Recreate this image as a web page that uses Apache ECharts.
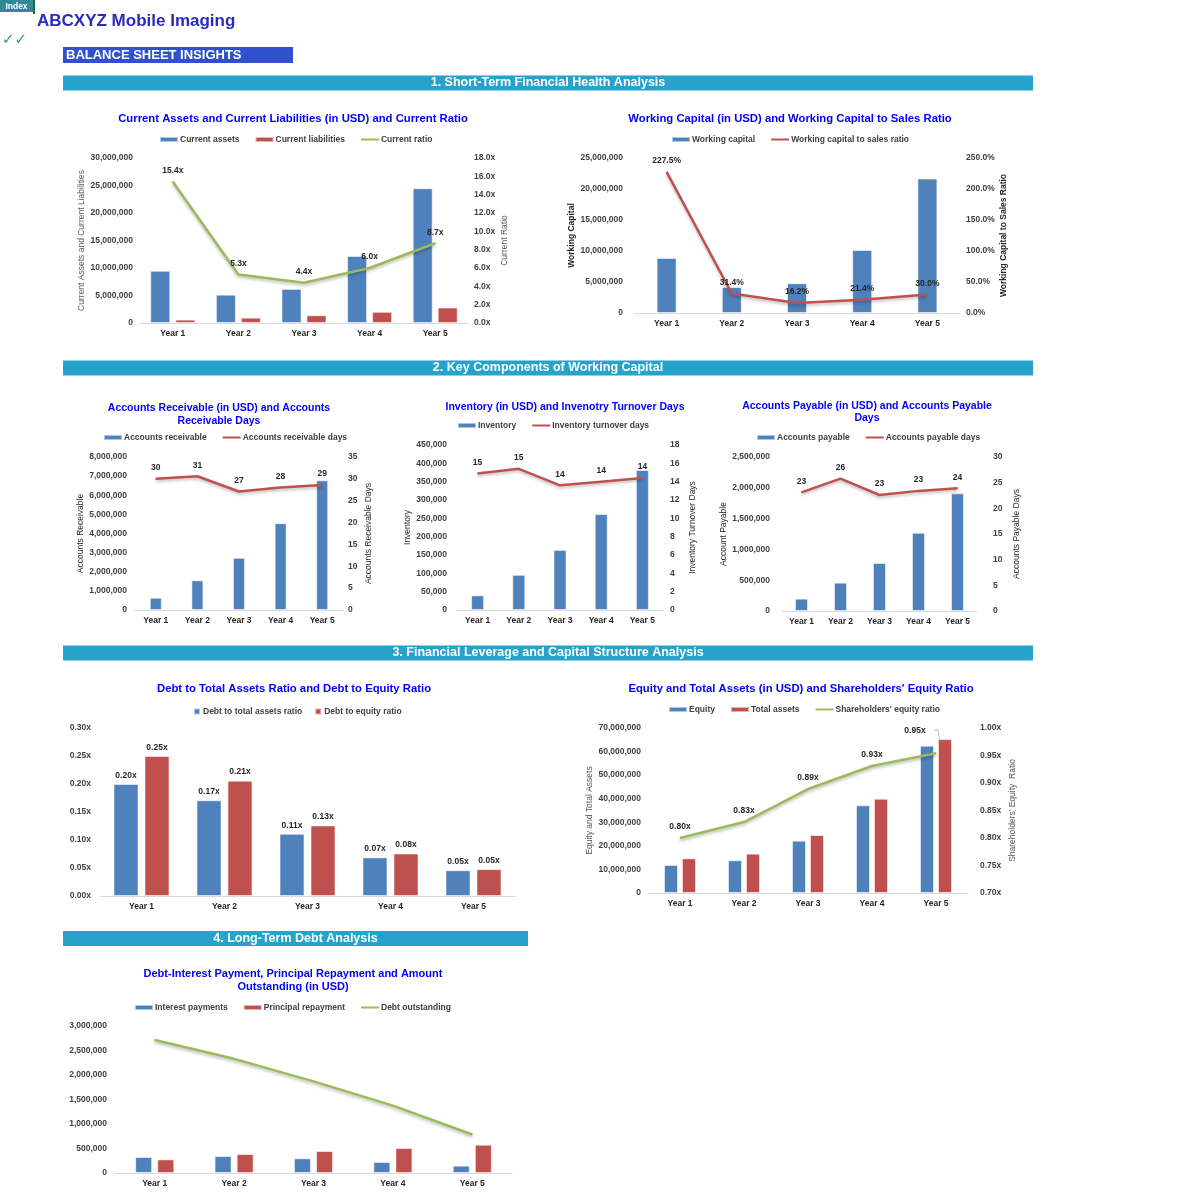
<!DOCTYPE html>
<html><head><meta charset="utf-8">
<script src="https://cdn.jsdelivr.net/npm/echarts@6/dist/echarts.min.js"></script>
<style>html,body{margin:0;padding:0;background:#fff}#c{width:1200px;height:1200px}</style>
</head><body><div id="c"></div>
<script>
// ---------- DATA ----------
const years = ['Year 1', 'Year 2', 'Year 3', 'Year 4', 'Year 5'];
const currentAssets = [9500000, 5150000, 6200000, 12200000, 24500000];
const currentLiabilities = [617000, 972000, 1409000, 2033000, 2816000];
const currentRatio = [15.4, 5.3, 4.4, 6.0, 8.7];
const workingCapital = [8880000, 4180000, 4790000, 10170000, 21680000];
const wcToSalesRatio = [227.5, 31.4, 16.2, 21.4, 30.0];
const accountsReceivable = [640000, 1550000, 2730000, 4540000, 6780000];
const arDays = [30.0, 30.6, 27.1, 28.0, 28.6];
const inventory = [40000, 96000, 164000, 262000, 382000];
const inventoryDays = [14.9, 15.4, 13.6, 14.0, 14.4];
const accountsPayable = [200000, 460000, 780000, 1270000, 1910000];
const apDays = [23.1, 25.8, 22.6, 23.4, 23.9];
const debtToAssets = [0.200, 0.171, 0.111, 0.069, 0.046];
const debtToEquity = [0.250, 0.206, 0.126, 0.076, 0.048];
const equity = [11900000, 13900000, 22200000, 37200000, 62500000];
const totalAssets = [14700000, 16700000, 24600000, 40000000, 65300000];
const equityRatio = [0.800, 0.829, 0.889, 0.931, 0.954];
const interestPayments = [326000, 346000, 300000, 224000, 150000];
const principalRepayment = [278000, 387000, 448000, 509000, 577000];
const debtOutstanding = [2716000, 2330000, 1870000, 1375000, 785000];

// ---------- STYLE ----------
const FONT = '"Liberation Sans", Arial, sans-serif';
const BLUE = '#4F81BD', RED = '#C0504D', GREEN = '#9BBB59';
const TITLE_BLUE = '#0000FF';
const SECTION = '#27A2CB';

const fmtNum = v => Math.round(v).toLocaleString('en-US');
const fmtX1 = v => v.toFixed(1) + 'x';
const fmtX2 = v => v.toFixed(2) + 'x';
const fmtPct = v => v.toFixed(1) + '%';
const fmtInt = v => String(Math.round(v));

const grid = [], xAxis = [], yAxis = [], series = [], legend = [], graphic = [];

function axisCommon(gi, pos, a) {
  return {
    type: 'value', gridIndex: gi, position: pos,
    min: a.min, max: a.max, interval: a.interval,
    splitLine: { show: false }, axisLine: { show: false }, axisTick: { show: false },
    axisLabel: { formatter: a.fmt, fontFamily: FONT, fontSize: 8.5, fontWeight: 'bold', color: '#404040', margin: a.margin },
    name: a.name || '', nameLocation: 'middle', nameGap: a.nameGap || 0, nameRotate: 90,
    nameTextStyle: { fontFamily: FONT, fontSize: 8.5, fontWeight: a.nameBold ? 'bold' : 'normal', color: a.nameColor || '#404040' }
  };
}

function addChart(c) {
  const gi = grid.length;
  const [gx, gy, gw, gh] = c.box;
  grid.push({ left: gx, top: gy, width: gw, height: gh, outerBoundsMode: 'none', containLabel: false });
  xAxis.push({
    type: 'category', gridIndex: gi, data: years,
    axisLine: { lineStyle: { color: '#D9D9D9', width: 1 } }, axisTick: { show: false },
    axisLabel: { fontFamily: FONT, fontSize: 8.5, fontWeight: 'bold', color: '#262626', margin: 6 }
  });
  const xi = xAxis.length - 1;
  const yl = yAxis.length;
  yAxis.push(axisCommon(gi, 'left', c.left));
  let yr = yl;
  if (c.right) { yr = yAxis.length; yAxis.push(axisCommon(gi, 'right', c.right)); }

  const legendData = [];
  c.bars.forEach(b => {
    series.push({
      type: 'bar', name: b.name, data: b.data, xAxisIndex: xi, yAxisIndex: yl,
      barWidth: c.barWidth, barGap: c.barGap || '25%',
      itemStyle: { color: b.color, borderColor: 'rgba(255,255,255,0.55)', borderWidth: 1 },
      label: b.labelFmt ? { show: true, position: 'top', distance: 4, formatter: p => b.labelFmt(p.value), fontFamily: FONT, fontSize: 8.5, fontWeight: 'bold', color: '#262626' } : { show: false },
      z: 2
    });
    legendData.push({ name: b.name, icon: 'rect' });
  });
  (c.lines || []).forEach(l => {
    const s = {
      type: 'line', name: l.name, data: l.data, xAxisIndex: xi, yAxisIndex: l.axis === 'left' ? yl : yr,
      symbol: 'circle', symbolSize: 1, showSymbol: true,
      lineStyle: { color: l.color, width: 2.5, shadowColor: 'rgba(0,0,0,0.25)', shadowBlur: 3, shadowOffsetY: 2 },
      itemStyle: { color: l.color },
      label: l.labelFmt ? { show: true, position: 'top', distance: 6, formatter: p => l.labelFmt(Array.isArray(p.value) ? p.value[1] : p.value), fontFamily: FONT, fontSize: 8.5, fontWeight: 'bold', color: '#262626' } : { show: false },
      z: 5
    };
    if (l.special) {
      s.data = l.data.map((v, i) => l.special[i] ? { value: v, label: l.special[i] } : v);
    }
    series.push(s);
    legendData.push({ name: l.name, itemStyle: { opacity: 0 } });
  });

  legend.push({
    data: legendData, left: c.legend.left, top: c.legend.top, padding: 0,
    itemWidth: c.legend.square ? 6 : 18, itemHeight: c.legend.square ? 6 : 5,
    itemGap: c.legend.gap || 15,
    textStyle: { fontFamily: FONT, fontSize: 8.5, fontWeight: 'bold', color: '#404040', padding: [0, 0, 0, c.legend.square ? -2 : -3] },
    selectedMode: false
  });

  graphic.push({
    type: 'text', silent: true,
    style: {
      text: c.title, x: c.titlePos[0], y: c.titlePos[1], textAlign: 'center', textVerticalAlign: 'middle',
      font: 'bold ' + (c.titleSize || 11.3) + 'px ' + FONT, fill: TITLE_BLUE, lineHeight: c.titleLH || 13
    }
  });
}

// 1. Current assets / liabilities / ratio
addChart({
  box: [140, 158, 328, 165],
  title: 'Current Assets and Current Liabilities (in USD) and Current Ratio', titlePos: [293, 119],
  legend: { left: 159, top: 135 },
  left: { min: 0, max: 30000000, interval: 5000000, fmt: fmtNum, margin: 7, name: 'Current Assets and Current Liabilities', nameGap: 52, nameColor: '#595959' },
  right: { min: 0, max: 18, interval: 2, fmt: fmtX1, margin: 6, name: 'Current Ratio', nameGap: 32, nameColor: '#595959' },
  barWidth: 20, barGap: '25%',
  bars: [{ name: 'Current assets', data: currentAssets, color: BLUE }, { name: 'Current liabilities', data: currentLiabilities, color: RED }],
  lines: [{ name: 'Current ratio', data: currentRatio, color: GREEN, labelFmt: fmtX1 }]
});

// 2. Working capital
addChart({
  box: [634, 158, 326, 155],
  title: 'Working Capital (in USD) and Working Capital to Sales Ratio', titlePos: [790, 119],
  legend: { left: 671, top: 135 },
  left: { min: 0, max: 25000000, interval: 5000000, fmt: fmtNum, margin: 11, name: 'Working Capital', nameGap: 53, nameBold: true, nameColor: '#262626' },
  right: { min: 0, max: 250, interval: 50, fmt: fmtPct, margin: 6, name: 'Working Capital to Sales Ratio', nameGap: 39, nameBold: true, nameColor: '#262626' },
  barWidth: 20,
  bars: [{ name: 'Working capital', data: workingCapital, color: BLUE }],
  lines: [{ name: 'Working capital to sales ratio', data: wcToSalesRatio, color: RED, labelFmt: fmtPct }]
});

// 3. Accounts receivable
addChart({
  box: [135, 457, 208, 153],
  title: 'Accounts Receivable (in USD) and Accounts\nReceivable Days', titlePos: [219, 414.5], titleSize: 10.5,
  legend: { left: 103, top: 433 },
  left: { min: 0, max: 8000000, interval: 1000000, fmt: fmtNum, margin: 8, name: 'Accounts Receivable', nameGap: 48, nameColor: '#262626' },
  right: { min: 0, max: 35, interval: 5, fmt: fmtInt, margin: 5, name: 'Accounts Receivable Days', nameGap: 21, nameColor: '#262626' },
  barWidth: 12,
  bars: [{ name: 'Accounts receivable', data: accountsReceivable, color: BLUE }],
  lines: [{ name: 'Accounts receivable days', data: arDays, color: RED, labelFmt: fmtInt }]
});

// 4. Inventory
addChart({
  box: [457, 445, 206, 165],
  title: 'Inventory (in USD) and Invenotry Turnover Days', titlePos: [565, 407], titleSize: 10.5,
  legend: { left: 457, top: 421 },
  left: { min: 0, max: 450000, interval: 50000, fmt: fmtNum, margin: 10, name: 'Inventory', nameGap: 44, nameColor: '#262626' },
  right: { min: 0, max: 18, interval: 2, fmt: fmtInt, margin: 7, name: 'Inventory Turnover Days', nameGap: 25, nameColor: '#262626' },
  barWidth: 13,
  bars: [{ name: 'Inventory', data: inventory, color: BLUE }],
  lines: [{ name: 'Inventory turnover days', data: inventoryDays, color: RED, labelFmt: fmtInt }]
});

// 5. Accounts payable
addChart({
  box: [782, 457, 195, 154],
  title: 'Accounts Payable (in USD) and Accounts Payable\nDays', titlePos: [867, 412], titleSize: 10.5, titleLH: 12,
  legend: { left: 756, top: 433 },
  left: { min: 0, max: 2500000, interval: 500000, fmt: fmtNum, margin: 12, name: 'Account Payable', nameGap: 52, nameColor: '#262626' },
  right: { min: 0, max: 30, interval: 5, fmt: fmtInt, margin: 16, name: 'Accounts Payable Days', nameGap: 35, nameColor: '#262626' },
  barWidth: 13,
  bars: [{ name: 'Accounts payable', data: accountsPayable, color: BLUE }],
  lines: [{ name: 'Accounts payable days', data: apDays, color: RED, labelFmt: fmtInt }]
});

// 6. Debt ratios
addChart({
  box: [100, 728, 415, 168],
  title: 'Debt to Total Assets Ratio and Debt to Equity Ratio', titlePos: [294, 689],
  legend: { left: 193, top: 707, square: true, gap: 12 },
  left: { min: 0, max: 0.30, interval: 0.05, fmt: fmtX2, margin: 9 },
  barWidth: 25, barGap: '24%',
  bars: [{ name: 'Debt to total assets ratio', data: debtToAssets, color: BLUE, labelFmt: fmtX2 },
         { name: 'Debt to equity ratio', data: debtToEquity, color: RED, labelFmt: fmtX2 }]
});

// 7. Equity and total assets
addChart({
  box: [648, 728, 320, 165],
  title: "Equity and Total Assets (in USD) and Shareholders' Equity Ratio", titlePos: [801, 689],
  legend: { left: 668, top: 705 },
  left: { min: 0, max: 70000000, interval: 10000000, fmt: fmtNum, margin: 7, name: 'Equity and Total Assets', nameGap: 52, nameColor: '#595959' },
  right: { min: 0.70, max: 1.00, interval: 0.05, fmt: fmtX2, margin: 12, name: "Shareholders' Equity  Ratio", nameGap: 40, nameColor: '#595959' },
  barWidth: 14, barGap: '28%',
  bars: [{ name: 'Equity', data: equity, color: BLUE }, { name: 'Total assets', data: totalAssets, color: RED }],
  lines: [{ name: "Shareholders' equity ratio", data: equityRatio, color: GREEN, labelFmt: fmtX2,
            special: [null, null, null, null, { offset: [-21, -12] }] }]
});

// 8. Debt schedule
addChart({
  box: [115, 1026, 397, 147],
  title: 'Debt-Interest Payment, Principal Repayment and Amount\nOutstanding (in USD)', titlePos: [293, 980.5], titleSize: 11,
  legend: { left: 134, top: 1003 },
  left: { min: 0, max: 3000000, interval: 500000, fmt: fmtNum, margin: 8 },
  barWidth: 17, barGap: '30%',
  bars: [{ name: 'Interest payments', data: interestPayments, color: BLUE }, { name: 'Principal repayment', data: principalRepayment, color: RED }],
  lines: [{ name: 'Debt outstanding', data: debtOutstanding, color: GREEN, axis: 'left' }]
});

// leader line for the shifted 0.95x label (chart 7)
graphic.push({ type: 'polyline', silent: true, shape: { points: [[934, 730], [938, 730], [941, 748]] }, style: { stroke: '#BFBFBF', lineWidth: 1, fill: null } });

// ---------- PAGE DECORATION ----------
graphic.push(
  { type: 'rect', shape: { x: 0, y: 0, width: 33, height: 12 }, style: { fill: '#2E8A96' }, silent: true },
  { type: 'rect', shape: { x: 33, y: 0, width: 2, height: 14 }, style: { fill: '#1E6B3A' }, silent: true },
  { type: 'text', silent: true, style: { text: 'Index', x: 16.5, y: 6.5, textAlign: 'center', textVerticalAlign: 'middle', font: 'bold 8.5px ' + FONT, fill: '#FFFFFF' } },
  { type: 'text', silent: true, style: { text: 'ABCXYZ Mobile Imaging', x: 37, y: 21, textVerticalAlign: 'middle', font: 'bold 17px ' + FONT, fill: '#2A2AC0' } },
  { type: 'text', silent: true, style: { text: '✓✓', x: 2, y: 40, textVerticalAlign: 'middle', font: 'bold 15px "DejaVu Sans", sans-serif', fill: '#2E9A5A' } },
  { type: 'rect', shape: { x: 63, y: 47, width: 230, height: 16 }, style: { fill: '#3050D0' }, silent: true },
  { type: 'text', silent: true, style: { text: 'BALANCE SHEET INSIGHTS', x: 66, y: 55.5, textVerticalAlign: 'middle', font: 'bold 13px ' + FONT, fill: '#FFFFFF' } }
);
const sections = [
  { text: '1. Short-Term Financial Health Analysis', y: 75.5, x0: 63, x1: 1033 },
  { text: '2. Key Components of Working Capital', y: 360.5, x0: 63, x1: 1033 },
  { text: '3. Financial Leverage and Capital Structure Analysis', y: 645.5, x0: 63, x1: 1033 },
  { text: '4. Long-Term Debt Analysis', y: 931, x0: 63, x1: 528 }
];
sections.forEach(s => {
  graphic.push(
    { type: 'rect', silent: true, shape: { x: s.x0, y: s.y, width: s.x1 - s.x0, height: 15 }, style: { fill: SECTION } },
    { type: 'text', silent: true, style: { text: s.text, x: (s.x0 + s.x1) / 2, y: s.y + 7.5, textAlign: 'center', textVerticalAlign: 'middle', font: 'bold 12.5px ' + FONT, fill: '#FFFFFF' } }
  );
});

const chart = echarts.init(document.getElementById('c'), null, { renderer: 'canvas' });
chart.setOption({
  animation: false,
  backgroundColor: '#FFFFFF',
  textStyle: { fontFamily: FONT },
  grid, xAxis, yAxis, series, legend, graphic
});
</script>
</body></html>
